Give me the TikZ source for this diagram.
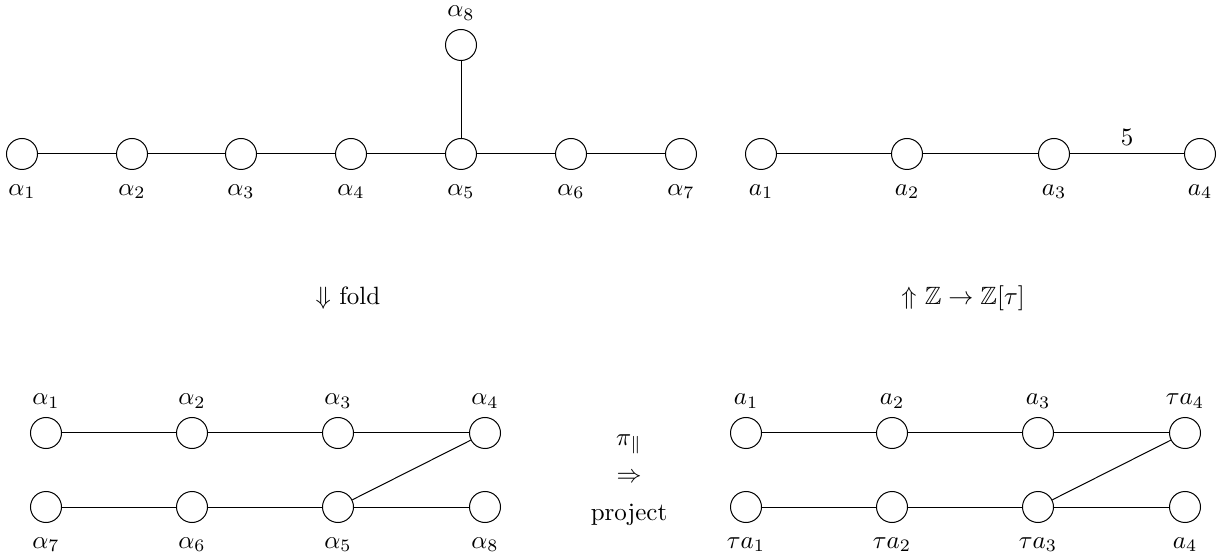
\documentclass[tikz,border=0pt]{standalone}
\usepackage{amssymb}
\begin{document}
\begin{tikzpicture}[x=0.4pt,y=-0.4pt,
  root/.style={circle,draw,minimum size=12.4pt,inner sep=0pt},
  under/.style={label={[label distance=2.2pt]below:#1}},
  over/.style={label={above:#1}}]
\useasboundingbox (0,0) rectangle (1225,558);
% E8 diagram
\node[root,under=$\alpha_1$] (e1) at (22,154) {};
\node[root,under=$\alpha_2$] (e2) at (132,154) {};
\node[root,under=$\alpha_3$] (e3) at (241,154) {};
\node[root,under=$\alpha_4$] (e4) at (351,154) {};
\node[root,under=$\alpha_5$] (e5) at (461,154) {};
\node[root,under=$\alpha_6$] (e6) at (571,154) {};
\node[root,under=$\alpha_7$] (e7) at (681,154) {};
\node[root,over=$\alpha_8$] (e8) at (461,45) {};
\draw (e1) -- (e2) -- (e3) -- (e4) -- (e5) -- (e6) -- (e7);
\draw (e5) -- (e8);
%
% H4 diagram
\node[root,under=$a_1$] (h1) at (761,154) {};
\node[root,under=$a_2$] (h2) at (907,154) {};
\node[root,under=$a_3$] (h3) at (1054,154) {};
\node[root,under=$a_4$] (h4) at (1200,154) {};
\draw (h1) -- (h2) -- (h3) -- node[above]{$5$} (h4);
%
\node (fold) at (348,298) {$\Downarrow$ fold};
\node (lift) at (963,298) {$\Uparrow$ $\mathbb{Z}\to\mathbb{Z}[\tau]$};
%
% folded E8
\node[root,over=$\alpha_1$] (f1) at (46,433) {};
\node[root,over=$\alpha_2$] (f2) at (192,433) {};
\node[root,over=$\alpha_3$] (f3) at (338,433) {};
\node[root,over=$\alpha_4$] (f4) at (485,433) {};
\node[root,under=$\alpha_7$] (g7) at (46,507) {};
\node[root,under=$\alpha_6$] (g6) at (192,507) {};
\node[root,under=$\alpha_5$] (g5) at (338,507) {};
\node[root,under=$\alpha_8$] (g8) at (485,507) {};
\draw (f1) -- (f2) -- (f3) -- (f4);
\draw (g7) -- (g6) -- (g5) -- (g8);
\draw (g5) -- (f4);
%
\node[align=center] (proj) at (629,480) {$\pi_\parallel$\\[3pt]$\Rightarrow$\\[3pt]project};
%
% projected H4
\node[root,over=$a_1$] (p1) at (746,433) {};
\node[root,over=$a_2$] (p2) at (892,433) {};
\node[root,over=$a_3$] (p3) at (1038,433) {};
\node[root,over=$\tau a_4$] (p4) at (1185,433) {};
\node[root,under=$\tau a_1$] (q1) at (746,507) {};
\node[root,under=$\tau a_2$] (q2) at (892,507) {};
\node[root,under=$\tau a_3$] (q3) at (1038,507) {};
\node[root,under=$a_4$] (q4) at (1185,507) {};
\draw (p1) -- (p2) -- (p3) -- (p4);
\draw (q1) -- (q2) -- (q3) -- (q4);
\draw (q3) -- (p4);
%
\end{tikzpicture}
\end{document}
